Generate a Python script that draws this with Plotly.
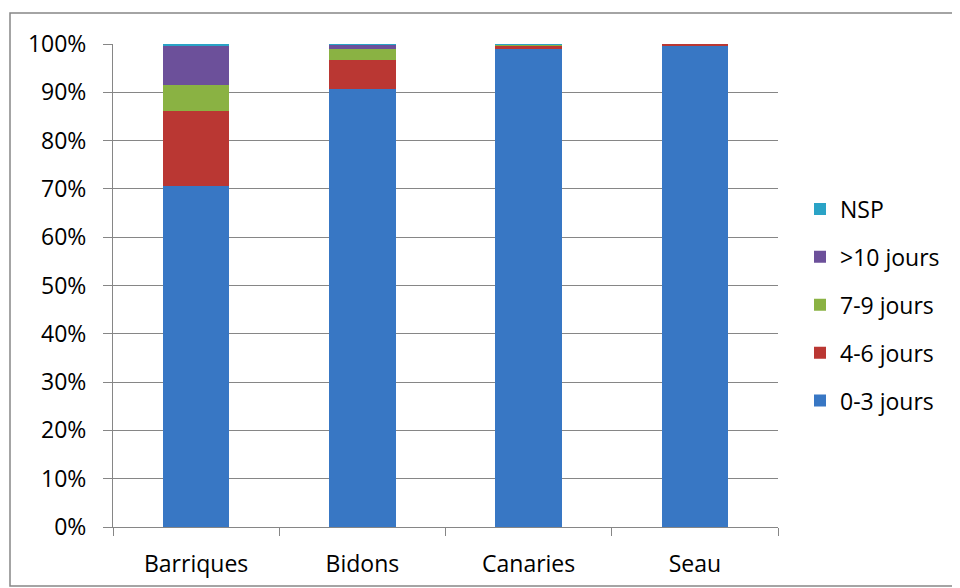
import plotly.graph_objects as go

categories = ["Barriques", "Bidons", "Canaries", "Seau"]
series_names = ["0-3 jours", "4-6 jours", "7-9 jours", ">10 jours", "NSP"]
v_0_3 = [70.7, 90.6, 99.0, 99.5]
v_4_6 = [15.4, 6.1, 0.6, 0.5]
v_7_9 = [5.5, 2.2, 0.3, 0.0]
v_10p = [7.9, 1.0, 0.0, 0.0]
v_nsp = [0.5, 0.1, 0.1, 0.0]
series_values = [v_0_3, v_4_6, v_7_9, v_10p, v_nsp]
colors = ["#3877C4", "#BA3733", "#8AB243", "#6C509A", "#2AA3C6"]
ytick_vals = list(range(0, 101, 10))
ytick_text = [f"{v}%" for v in ytick_vals]

FONT = "Open Sans"
FS = 23

fig = go.Figure()
n = len(series_names)
for i, (name, vals, col) in enumerate(zip(series_names, series_values, colors)):
    fig.add_trace(go.Bar(
        x=categories, y=vals, name=name, legendgroup=name,
        legendrank=n - i,
        marker=dict(color=col, line=dict(width=0)),
    ))

# page offset of 8px (browser body margin) is compensated in the margins
L, T, W, H = 105, 36, 665, 483
fig.update_layout(
    barmode="stack",
    bargap=0.6,
    width=960, height=588,
    margin=dict(l=L, r=960 - L - W, t=T, b=588 - T - H, autoexpand=False),
    paper_bgcolor="white", plot_bgcolor="white",
    font=dict(family=FONT, size=FS, color="#000000"),
    showlegend=True,
    legend=dict(
        x=(800 - 8 - L) / W, y=(T + H - (305 - 8)) / H,
        xanchor="left", yanchor="middle",
        traceorder="grouped", tracegroupgap=15,
        font=dict(family=FONT, size=FS, color="#000000"),
        itemwidth=30,
    ),
    xaxis=dict(
        type="category", tickson="boundaries", ticks="outside", ticklen=8,
        tickcolor="#868686", linecolor="#868686", showline=True, linewidth=1,
        showgrid=False, tickfont=dict(size=FS), ticklabelstandoff=16,
    ),
    yaxis=dict(
        range=[0, 100], tickvals=ytick_vals, ticktext=ytick_text,
        ticks="outside", ticklen=9, tickcolor="#868686",
        showline=True, linecolor="#868686", linewidth=1,
        showgrid=True, gridcolor="#868686", gridwidth=1,
        tickfont=dict(size=FS), zeroline=False, ticklabelstandoff=12,
    ),
    shapes=[dict(
        type="rect", xref="paper", yref="paper",
        x0=(10 - 8 - L) / W, x1=(958 - 8 - L) / W,
        y0=(T + H - (586 - 8)) / H, y1=(T + H - (13 - 8)) / H,
        line=dict(color="#868686", width=1.5), layer="below",
    )],
)

fig.write_html("out.html")
